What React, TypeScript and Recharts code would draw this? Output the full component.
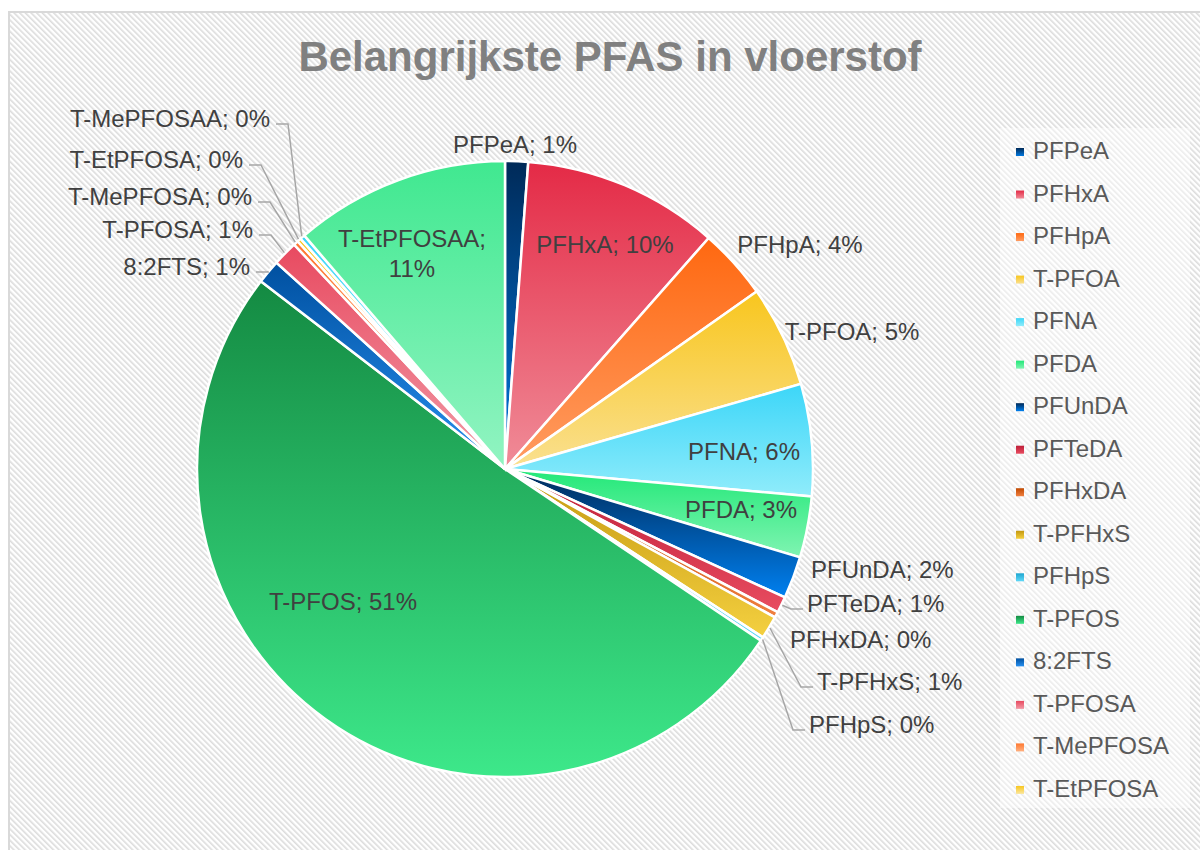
import { PieChart, Pie, Cell, Legend } from 'recharts';

const names = [
  'PFPeA', 'PFHxA', 'PFHpA', 'T-PFOA', 'PFNA', 'PFDA', 'PFUnDA', 'PFTeDA', 'PFHxDA',
  'T-PFHxS', 'PFHpS', 'T-PFOS', '8:2FTS', 'T-PFOSA', 'T-MePFOSA', 'T-EtPFOSA',
  'T-MePFOSAA', 'T-EtPFOSAA',
];

// share of total (%)
const shares = [
  1.2, 10.25, 3.7, 5.3, 5.85, 3.2, 2.2, 0.85, 0.3,
  1.2, 0.2, 50.8, 1.25, 1.3, 0.25, 0.2,
  0.25, 11.25,
];

// top -> bottom gradient stops per slice
const topColors = [
  '#002a58', '#e42a46', '#ff6810', '#f8c61e', '#3cd6f8', '#22e878', '#002a58', '#be1e38', '#c04800',
  '#c49810', '#1ea6d0', '#148a42', '#0050a0', '#e84a60', '#ff7830', '#f8c61e',
  '#3cd6f8', '#40e890',
];
const bottomColors = [
  '#0078e0', '#f08c98', '#ff9c62', '#fae090', '#90ecfb', '#80f4b2', '#0080f0', '#e84c60', '#f08040',
  '#f4d040', '#60d8f8', '#3de88a', '#2890f0', '#f29aa6', '#ffb080', '#fbe7a0',
  '#a0f0fa', '#92f4c2',
];

// label placement relative to the pie centre (layout only)
type Spot = { dx: number; dy: number; anchor: 'start' | 'middle' | 'end'; lead?: boolean; wrap?: boolean };
const labelSpots: Spot[] = [
  { dx: 10, dy: -316, anchor: 'middle' },
  { dx: 100, dy: -216, anchor: 'middle' },
  { dx: 295, dy: -216, anchor: 'middle' },
  { dx: 347, dy: -129, anchor: 'middle' },
  { dx: 239, dy: -9, anchor: 'middle' },
  { dx: 236, dy: 49, anchor: 'middle' },
  { dx: 306, dy: 109, anchor: 'start' },
  { dx: 302, dy: 143, anchor: 'start', lead: true },
  { dx: 285, dy: 179, anchor: 'start' },
  { dx: 312, dy: 221, anchor: 'start', lead: true },
  { dx: 304, dy: 264, anchor: 'start', lead: true },
  { dx: -162, dy: 141, anchor: 'middle' },
  { dx: -255, dy: -194, anchor: 'end', lead: true },
  { dx: -252, dy: -231, anchor: 'end', lead: true },
  { dx: -253, dy: -264, anchor: 'end', lead: true },
  { dx: -262, dy: -301, anchor: 'end', lead: true },
  { dx: -235, dy: -342, anchor: 'end', lead: true },
  { dx: -93, dy: -222, anchor: 'middle', wrap: true },
];

const data = names.map((name, i) => ({ name, value: shares[i] }));

const RAD = Math.PI / 180;
const FONT = '"Liberation Sans", Arial, sans-serif';

function renderLabel(props: any) {
  const { cx, cy, midAngle, outerRadius, percent, index } = props;
  const spot = labelSpots[index];
  const tx = cx + spot.dx;
  const ty = cy + spot.dy;
  const pct = `${Math.round(percent * 100)}%`;
  const ex = cx + (outerRadius + 1) * Math.cos(-midAngle * RAD);
  const ey = cy + (outerRadius + 1) * Math.sin(-midAngle * RAD);

  let leader = null;
  if (spot.lead) {
    const ly = ty - 3;
    const pts =
      spot.anchor === 'end'
        ? `${tx + 6},${ly} ${tx + 18},${ly} ${ex},${ey}`
        : `${tx - 4},${ly} ${tx - 16},${ly} ${ex},${ey}`;
    leader = <polyline points={pts} fill="none" stroke="#a6a6a6" strokeWidth={1.5} />;
  }

  return (
    <g key={`lbl-${index}`}>
      {leader}
      {spot.wrap ? (
        <text x={tx} y={ty} textAnchor={spot.anchor} fontSize={24} fill="#404040" fontFamily={FONT}>
          <tspan x={tx}>{names[index]};</tspan>
          <tspan x={tx} dy={30}>{pct}</tspan>
        </text>
      ) : (
        <text x={tx} y={ty} textAnchor={spot.anchor} fontSize={24} fill="#404040" fontFamily={FONT}>
          {`${names[index]}; ${pct}`}
        </text>
      )}
    </g>
  );
}

function LegendBox(props: any) {
  const payload = props.payload ?? [];
  const items = names.slice(0, 16);
  return (
    <svg width={190} height={680} style={{ display: 'block' }}>
      <rect width={190} height={680} fill="#ffffff" fillOpacity={0.45} />
      {items.map((n, i) => {
        const entry = payload.find((p: any) => p.value === n);
        return (
          <g key={n}>
            <rect x={16} y={20 + i * 42.53} width={8} height={8} fill={entry?.color ?? `url(#sl${i})`} />
            <text x={33} y={31 + i * 42.53} fontSize={24} fill="#595959" fontFamily={FONT}>
              {n}
            </text>
          </g>
        );
      })}
    </svg>
  );
}

export default function App() {
  return (
    <div style={{ position: 'absolute', left: 0, top: 0, width: 1200, height: 850, background: '#fff', overflow: 'hidden' }}>
      <svg width={1200} height={850} style={{ position: 'absolute', left: 0, top: 0 }}>
        <defs>
          <pattern id="hatch" width={4} height={4} patternUnits="userSpaceOnUse" patternTransform="rotate(-45)">
            <rect width={4} height={4} fill="#ffffff" />
            <rect width={1.6} height={4} fill="#dcdcdc" />
          </pattern>
          {names.map((n, i) => (
            <linearGradient key={n} id={`sl${i}`} x1="0" y1="0" x2="0" y2="1">
              <stop offset="0%" stopColor={topColors[i]} />
              <stop offset="100%" stopColor={bottomColors[i]} />
            </linearGradient>
          ))}
        </defs>
        <rect x={9} y={12} width={1210} height={860} fill="url(#hatch)" stroke="#d9d9d9" strokeWidth={2} />
        <text x={610} y={71} textAnchor="middle" fontSize={42} fontWeight="bold" fill="#808080" fontFamily={FONT}>
          Belangrijkste PFAS in vloerstof
        </text>
      </svg>
      <div style={{ position: 'absolute', left: 0, top: 0 }}>
        <PieChart width={1200} height={850} margin={{ top: 0, right: 0, bottom: 0, left: 0 }}>
          <Pie
            data={data}
            dataKey="value"
            nameKey="name"
            cx={505}
            cy={469}
            outerRadius={308}
            startAngle={90}
            endAngle={-270}
            labelLine={false}
            label={renderLabel}
            isAnimationActive={false}
          >
            {data.map((d, i) => (
              <Cell key={d.name} fill={`url(#sl${i})`} stroke="#ffffff" strokeWidth={2.5} />
            ))}
          </Pie>
          <Legend
            layout="vertical"
            align="right"
            verticalAlign="top"
            content={LegendBox}
            wrapperStyle={{ left: 1000, top: 128, right: 'auto', width: 190, height: 680 }}
          />
        </PieChart>
      </div>
    </div>
  );
}
